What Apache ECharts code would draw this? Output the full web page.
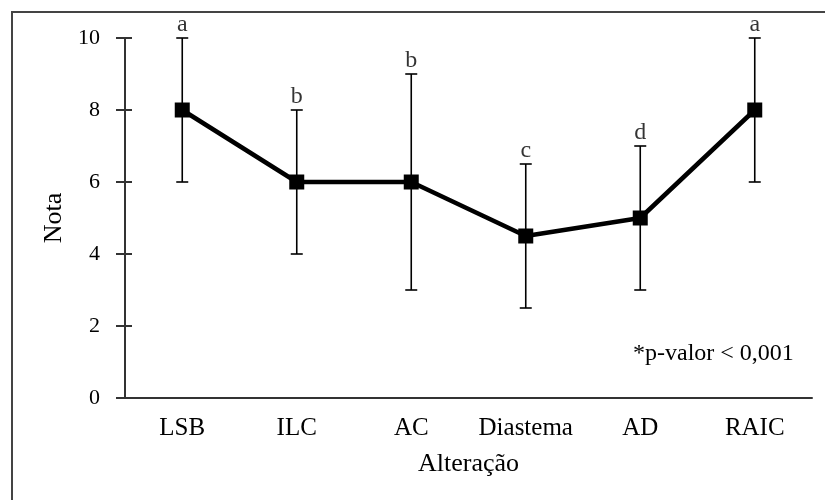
<!DOCTYPE html>
<html>
<head>
<meta charset="utf-8">
<script src="https://cdn.jsdelivr.net/npm/echarts@6/dist/echarts.min.js"></script>
<style>html,body{margin:0;padding:0;background:#fff;}#c{width:825px;height:500px;}</style>
</head>
<body>
<div id="c"></div>
<script>
var categories = ['LSB', 'ILC', 'AC', 'Diastema', 'AD', 'RAIC'];
var means = [8, 6, 6, 4.5, 5, 8];
var lower = [6, 4, 3, 2.5, 3, 6];
var upper = [10, 8, 9, 6.5, 7, 10];
var letters = ['a', 'b', 'b', 'c', 'd', 'a'];
var yTicks = [0, 2, 4, 6, 8, 10];
var note = '*p-valor < 0,001';

var FONT = 'Liberation Serif';
var chart = echarts.init(document.getElementById('c'));
var errData = categories.map(function (c, i) { return [i, lower[i], upper[i]]; });
var letterData = categories.map(function (c, i) { return [i, upper[i], letters[i]]; });

chart.setOption({
  backgroundColor: '#fff',
  animation: false,
  grid: { left: 125, right: 13, top: 38, bottom: 102 },
  xAxis: {
    type: 'category',
    data: categories,
    boundaryGap: true,
    axisLine: { lineStyle: { color: '#333', width: 2 } },
    axisTick: { show: false },
    axisLabel: { color: '#000', fontFamily: FONT, fontSize: 25, margin: 18, interval: 0 },
    name: 'Alteração',
    nameLocation: 'middle',
    nameGap: 53,
    nameTextStyle: { color: '#000', fontFamily: FONT, fontSize: 26 }
  },
  yAxis: [{
    type: 'value',
    min: yTicks[0], max: yTicks[yTicks.length - 1], interval: yTicks[1] - yTicks[0],
    splitLine: { show: false },
    axisLine: { show: true, lineStyle: { color: '#333', width: 2 } },
    axisTick: { show: true, length: 9, lineStyle: { color: '#333', width: 2 } },
    axisLabel: { color: '#000', fontFamily: FONT, fontSize: 22, margin: 25 },
    name: 'Nota',
    nameLocation: 'middle',
    nameGap: 51,
    nameTextStyle: { color: '#000', fontFamily: FONT, fontSize: 26 }
  }, {
    type: 'value',
    position: 'left',
    min: yTicks[0], max: yTicks[yTicks.length - 1], interval: yTicks[1] - yTicks[0],
    splitLine: { show: false },
    axisLine: { show: false },
    axisTick: { show: true, inside: true, length: 7, lineStyle: { color: '#333', width: 2 } },
    axisLabel: { show: false }
  }],
  graphic: [{
    type: 'rect',
    shape: { x: 12, y: 12, width: 900, height: 600 },
    style: { fill: 'none', stroke: '#444', lineWidth: 2 },
    silent: true, z: 100
  }, {
    type: 'text',
    left: 633, top: 342,
    style: { text: note, fontFamily: FONT, fontSize: 24, fill: '#000' }
  }],
  series: [{
    type: 'custom',
    data: errData,
    z: 2,
    renderItem: function (params, api) {
      var x = api.value(0);
      var lo = api.coord([x, api.value(1)]);
      var hi = api.coord([x, api.value(2)]);
      var hw = 6;
      var st = { stroke: '#000', lineWidth: 1.6 };
      return {
        type: 'group',
        children: [
          { type: 'line', shape: { x1: hi[0], y1: hi[1], x2: lo[0], y2: lo[1] }, style: st },
          { type: 'line', shape: { x1: hi[0] - hw, y1: hi[1], x2: hi[0] + hw, y2: hi[1] }, style: st },
          { type: 'line', shape: { x1: lo[0] - hw, y1: lo[1], x2: lo[0] + hw, y2: lo[1] }, style: st }
        ]
      };
    }
  }, {
    type: 'line',
    data: means,
    z: 3,
    symbol: 'rect',
    symbolSize: 15,
    itemStyle: { color: '#000' },
    lineStyle: { color: '#000', width: 4.5 }
  }, {
    type: 'scatter',
    data: letterData,
    symbolSize: 0,
    z: 4,
    label: {
      show: true,
      position: 'top',
      distance: 1,
      formatter: function (p) { return p.value[2]; },
      color: '#000', fontFamily: FONT, fontSize: 24
    }
  }]
});
</script>
</body>
</html>
